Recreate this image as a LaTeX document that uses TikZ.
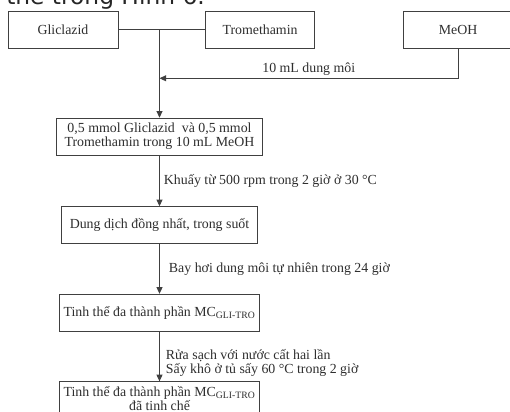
\documentclass[tikz,border=0pt]{standalone}
\usepackage{fontspec}
\setmainfont{Liberation Serif}
\newfontfamily\capfont{DejaVu Sans}
\usetikzlibrary{arrows.meta,positioning}
\definecolor{linegray}{HTML}{404040}
\definecolor{textgray}{HTML}{2E2E2E}
\tikzset{
  box/.style={draw=linegray,fill=white,minimum height=27.75pt,inner sep=3pt,
    align=center,text=textgray,font=\fontsize{10.4}{10.5}\selectfont},
  flowline/.style={draw=linegray,line width=0.7pt},
  flowarrow/.style={-{Triangle[length=5pt,width=4.5pt]},draw=linegray,line width=0.7pt},
  steplabel/.style={right,inner sep=1pt,align=left,text=textgray,
    font=\fontsize{10.4}{10.5}\selectfont}
}

\begin{document}
\begin{tikzpicture}[x=0.75pt,y=0.75pt,node distance=37.5pt and 65.25pt]
\useasboundingbox (0,0) rectangle (510,411);
\clip (0,0) rectangle (510,411);
\node[anchor=base west,inner sep=0,text=black!85,
  font=\capfont\fontsize{17.5}{20}\selectfont] (cap) at (6,406) {thể trong Hình 6.};
\node[box,minimum width=82.5pt] (gli) at (63,381.5) {Gliclazid};
\node[box,minimum width=81.75pt,right=65.25pt of gli] (tro) {Tromethamin};
\node[box,minimum width=82.5pt,right=66pt of tro] (meoh) {MeOH};
\node[box,minimum width=154.5pt] (mix) at (159.5,274.5)
  {0,5 mmol Gliclazid\ \ và 0,5 mmol\\Tromethamin trong 10 mL MeOH};
\node[box,minimum width=147pt,below=38.25pt of mix] (sol) {Dung dịch đồng nhất, trong suốt};
\node[box,minimum width=148.5pt,below=of sol] (cry) {Tinh thể đa thành phần MC\textsubscript{GLI-TRO}};
\node[box,minimum width=147.75pt,minimum height=25.5pt,below=of cry] (pure)
  {Tinh thể đa thành phần MC\textsubscript{GLI-TRO}\\đã tinh chế};
\coordinate[below=22.5pt of meoh] (bend);
\draw[flowline] (gli) -- (tro);
\draw[flowarrow] (gli.east -| mix.north) -- (mix.north);
\draw[flowarrow] (meoh) -- (bend) -- node[above,inner sep=2pt,text=textgray,
  font=\fontsize{10.4}{10.5}\selectfont] (solv) {10 mL dung môi} (bend -| mix.north);
\draw[flowarrow] (mix) -- node[steplabel,xshift=2pt] (stir) {Khuấy từ 500 rpm trong 2 giờ ở 30 °C} (sol);
\draw[flowarrow] (sol) -- node[steplabel,xshift=5.75pt] (evap) {Bay hơi dung môi tự nhiên trong 24 giờ} (cry);
\draw[flowarrow] (cry) -- node[steplabel,xshift=3.5pt,yshift=-5.25pt] (wash)
  {Rửa sạch với nước cất hai lần\\Sấy khô ở tủ sấy 60 °C trong 2 giờ} (pure);
\end{tikzpicture}
\end{document}
